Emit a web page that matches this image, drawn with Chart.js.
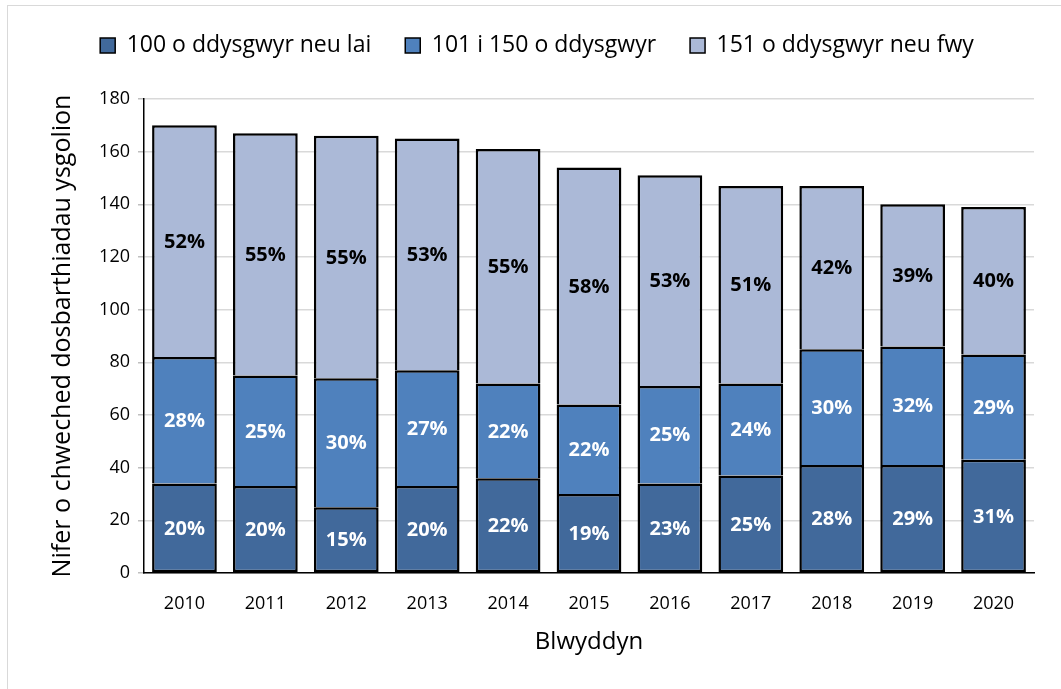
<!DOCTYPE html>
<html>
<head>
<meta charset="utf-8">
<script src="https://cdn.jsdelivr.net/npm/chart.js@4"></script>
<style>
  html, body { margin: 0; padding: 0; background: #fff; overflow: hidden; }
  #frame { position: absolute; left: 7px; top: 5px; width: 1200px; height: 800px; border: 1px solid #d9d9d9; }
  #wrap { position: absolute; left: 0; top: 0; width: 1061px; height: 689px; }
</style>
</head>
<body>
<div id="frame"></div>
<div id="wrap"><canvas id="sixthFormChart" width="1061" height="689"></canvas></div>
<script>
// Years and numbers of school sixth forms by size band
const years = ['2010', '2011', '2012', '2013', '2014', '2015', '2016', '2017', '2018', '2019', '2020'];
const small = [34, 33, 25, 33, 36, 30, 34, 37, 41, 41, 43];    // 100 o ddysgwyr neu lai
const medium = [48, 42, 49, 44, 36, 34, 37, 35, 44, 45, 40];   // 101 i 150 o ddysgwyr
const large = [88, 92, 92, 88, 89, 90, 80, 75, 62, 54, 56];    // 151 o ddysgwyr neu fwy
const seriesNames = ['100 o ddysgwyr neu lai', '101 i 150 o ddysgwyr', '151 o ddysgwyr neu fwy'];
const yTicks = [0, 20, 40, 60, 80, 100, 120, 140, 160, 180];

const totals = years.map((y, i) => small[i] + medium[i] + large[i]);
const FONT = "'Open Sans', 'Liberation Sans', sans-serif";

// Percent labels drawn in the middle of every segment
const segmentLabels = {
    id: 'segmentLabels',
    afterDatasetsDraw(chart) {
        const ctx = chart.ctx;
        ctx.save();
        ctx.font = 'bold 20px ' + FONT;
        ctx.textAlign = 'center';
        ctx.textBaseline = 'middle';
        chart.data.datasets.forEach((ds, i) => {
            const meta = chart.getDatasetMeta(i);
            ctx.fillStyle = i === 2 ? '#000000' : '#ffffff';
            meta.data.forEach((bar, j) => {
                const p = bar.getProps(['x', 'y', 'base'], true);
                const pct = Math.round(ds.data[j] / totals[j] * 100) + '%';
                ctx.fillText(pct, p.x, (p.y + p.base) / 2 + 1);
            });
        });
        ctx.restore();
    }
};

// bottom segment gets a full outline, upper ones skip their bottom edge
// so the shared edge is a single line
const fullBorder = { top: 2.5, left: 2.5, right: 2.5, bottom: 2.5 };
const openBottom = { top: 2.5, left: 2.5, right: 2.5, bottom: 0 };

const ctx = document.getElementById('sixthFormChart');
new Chart(ctx, {
    type: 'bar',
    data: {
        labels: years,
        datasets: [
            { label: seriesNames[0], data: small, backgroundColor: '#41699b', borderWidth: fullBorder },
            { label: seriesNames[1], data: medium, backgroundColor: '#4f81bd', borderWidth: openBottom },
            { label: seriesNames[2], data: large, backgroundColor: '#abb9d7', borderWidth: openBottom }
        ].map(d => Object.assign(d, {
            borderColor: '#000000',
            borderSkipped: false,
            barPercentage: 0.8,
            categoryPercentage: 1.0
        }))
    },
    options: {
        responsive: false,
        animation: false,
        layout: {
            padding: { left: 40, right: 27, top: 0, bottom: 0 }
        },
        plugins: {
            legend: {
                position: 'top',
                labels: {
                    font: { family: FONT, size: 23 },
                    color: '#000000',
                    boxWidth: 15,
                    boxHeight: 15,
                    padding: 34,
                    generateLabels(chart) {
                        return chart.data.datasets.map((ds, i) => ({
                            text: ds.label,
                            fillStyle: ds.backgroundColor,
                            strokeStyle: '#000000',
                            lineWidth: 1.5,
                            fontColor: '#000000',
                            hidden: false,
                            datasetIndex: i
                        }));
                    }
                }
            },
            // empty title used as a gap between legend and plot
            title: {
                display: true,
                text: '',
                weight: 500,
                font: { size: 10 },
                padding: { top: 10, bottom: 10 }
            },
            tooltip: { enabled: false }
        },
        scales: {
            x: {
                stacked: true,
                grid: { display: false, drawTicks: false },
                border: { display: true, color: '#000000', width: 1.5 },
                ticks: {
                    font: { family: FONT, size: 18 },
                    color: '#000000',
                    padding: 20
                },
                title: {
                    display: true,
                    text: 'Blwyddyn',
                    font: { family: FONT, size: 24 },
                    color: '#000000',
                    padding: { top: 4, bottom: 32 }
                },
                afterFit(scale) { scale.height = 116; }
            },
            y: {
                stacked: true,
                min: 0,
                max: 180,
                afterBuildTicks(scale) { scale.ticks = yTicks.map(v => ({ value: v })); },
                grid: {
                    color: '#d9d9d9',
                    lineWidth: 1.5,
                    tickLength: 6,
                    tickColor: '#bfbfbf'
                },
                border: { display: true, color: '#000000', width: 1.5 },
                ticks: {
                    font: { family: FONT, size: 18 },
                    color: '#000000',
                    padding: 8
                },
                title: {
                    display: true,
                    text: 'Nifer o chweched dosbarthiadau ysgolion',
                    font: { family: FONT, size: 25 },
                    color: '#000000',
                    padding: { top: 8, bottom: 4 }
                },
                afterFit(scale) { scale.width = 104; }
            }
        }
    },
    plugins: [segmentLabels]
});
</script>
</body>
</html>
